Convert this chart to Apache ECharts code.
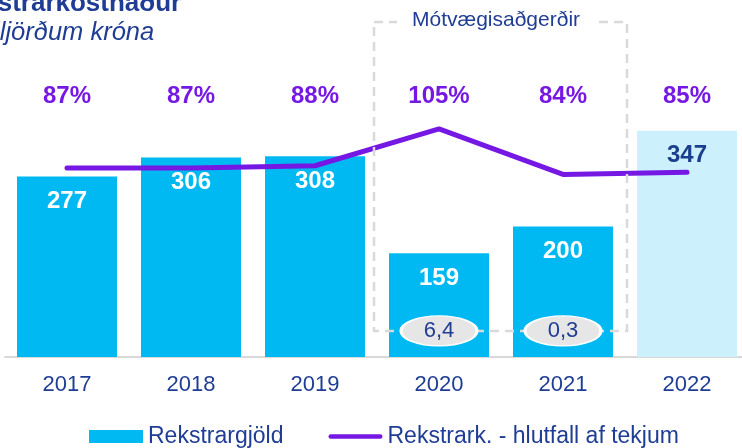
<!DOCTYPE html>
<html>
<head>
    <meta charset="utf-8">
    <title>Rekstrarkostnaður</title>
    <script src="https://cdn.jsdelivr.net/npm/echarts@6/dist/echarts.min.js"></script>
    <style>
        html, body { margin: 0; padding: 0; background: #fff; }
        #main { width: 742px; height: 448px; }
    </style>
</head>
<body>
<div id="main"></div>
<script type="text/javascript">
    // gögn
    var years = ['2017', '2018', '2019', '2020', '2021', '2022'];
    var costs = [277, 306, 308, 159, 200, 347];
    var ratio = [87, 87, 88, 105, 84, 85];
    var measures = ['', '', '', '6,4', '0,3', ''];

    var navy = '#1f3d94';
    var purple = '#7618e4';
    var font = '"Liberation Sans", Arial, sans-serif';

    var myChart = echarts.init(document.getElementById('main'));

    var barData = costs.map(function (v, i) {
        var last = i === costs.length - 1;
        return {
            value: v,
            itemStyle: { color: last ? '#ccf0fc' : '#00b9f2' },
            label: { color: last ? '#1b3f8f' : '#ffffff' }
        };
    });

    var measureData = [];
    measures.forEach(function (m, i) {
        if (m) measureData.push([i, 40]);
    });

    myChart.setOption({
        animation: false,
        textStyle: { fontFamily: font },
        grid: { left: 5, width: 744, top: 31, bottom: 91, outerBoundsMode: 'none', containLabel: false },
        legend: {
            left: 89,
            top: 425,
            padding: 0,
            itemWidth: 54,
            itemHeight: 13,
            itemGap: 45,
            textStyle: { color: navy, fontSize: 23, fontFamily: font },
            data: [
                { name: 'Rekstrargjöld', icon: 'rect' },
                {
                    name: 'Rekstrark. - hlutfall af tekjum',
                    icon: 'path://M2.5 0H57.5A2.5 2.5 0 0 1 57.5 5H2.5A2.5 2.5 0 0 1 2.5 0Z'
                }
            ]
        },
        xAxis: {
            type: 'category',
            data: years,
            axisLine: { lineStyle: { color: '#d9d9d9', width: 2 } },
            axisTick: { show: false },
            axisLabel: { color: navy, fontSize: 22, margin: 17, fontFamily: font }
        },
        yAxis: [
            { type: 'value', min: 0, max: 500, show: false },
            { type: 'value', min: 0, max: 150, show: false }
        ],
        graphic: [
            {
                type: 'text', left: -50, top: -9, z: 50,
                style: { text: 'Rekstrarkostnaður', fill: navy, font: 'bold 26px ' + font }
            },
            {
                type: 'text', left: -47, top: 20, z: 50,
                style: { text: 'Í milljörðum króna', fill: navy, font: 'italic 25.5px ' + font }
            },
            {
                type: 'rect', z: 10,
                shape: { x: 374, y: 22, width: 253, height: 309 },
                style: { fill: null, stroke: '#d9d9d9', lineWidth: 2.5, lineDash: [9, 6] }
            },
            {
                type: 'text', z: 11, x: 496, y: 20,
                style: {
                    text: 'Mótvægisaðgerðir', fill: navy, font: '21px ' + font,
                    align: 'center', verticalAlign: 'middle',
                    backgroundColor: '#ffffff', padding: [2, 15]
                }
            }
        ],
        series: [
            {
                name: 'Rekstrargjöld',
                type: 'bar',
                barWidth: 100,
                itemStyle: { color: '#00b9f2' },
                label: {
                    show: true,
                    position: 'insideTop',
                    distance: 13,
                    fontSize: 24,
                    fontWeight: 'bold',
                    fontFamily: font
                },
                data: barData
            },
            {
                name: 'Rekstrark. - hlutfall af tekjum',
                type: 'line',
                yAxisIndex: 1,
                symbol: 'none',
                z: 5,
                itemStyle: { color: purple },
                lineStyle: { color: purple, width: 5, cap: 'round' },
                data: ratio
            },
            {
                // prósentutölur efst
                type: 'scatter',
                yAxisIndex: 1,
                symbolSize: 1,
                itemStyle: { color: 'rgba(0,0,0,0)', opacity: 1 },
                label: {
                    show: true,
                    position: 'inside',
                    color: purple,
                    fontSize: 24,
                    fontWeight: 'bold',
                    fontFamily: font,
                    formatter: function (p) { return ratio[p.dataIndex] + '%'; }
                },
                data: ratio.map(function () { return 120; })
            },
            {
                // mótvægisaðgerðir
                type: 'scatter',
                z: 20,
                symbol: 'path://M0 1A1 1 0 1 1 2 1A1 1 0 1 1 0 1Z',
                symbolSize: [76, 30],
                itemStyle: { color: '#e6e6e6', borderColor: '#ffffff', borderWidth: 2, opacity: 1 },
                label: {
                    show: true,
                    position: 'inside',
                    color: navy,
                    fontSize: 22,
                    fontFamily: font,
                    formatter: function (p) { return measures[p.value[0]]; }
                },
                data: measureData
            }
        ]
    });
</script>
</body>
</html>
